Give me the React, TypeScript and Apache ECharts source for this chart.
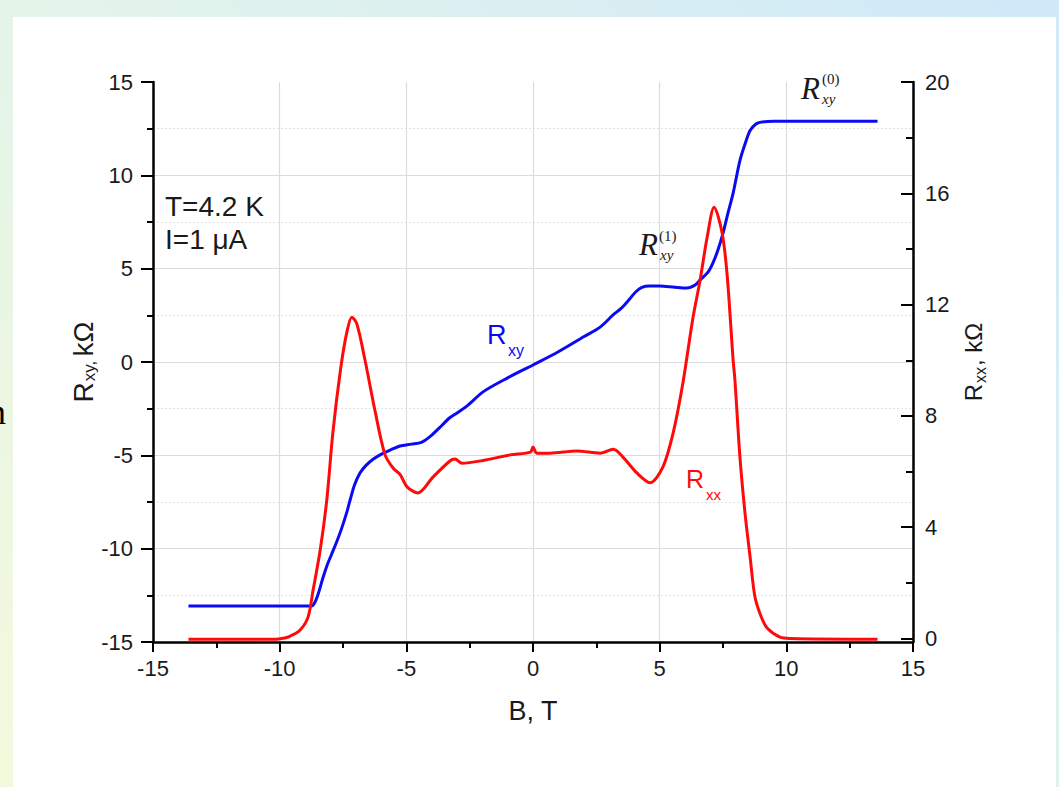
import React, { useEffect, useRef } from "react";
import * as echarts from "echarts";

// Hall resistance R_xy (left axis, kΩ) vs magnetic field B (T)
const RXY_B = [
  -13.6, -8.75, -8.6, -8.45, -8.3, -8.13, -7.95, -7.74, -7.55, -7.34, -7.2, -7.05,
  -6.83, -6.6, -6.3, -6.0, -5.6, -5.25, -4.8, -4.4, -4.07, -3.6, -3.3, -3.08, -2.6,
  -1.97, -1.0, 0, 1.0, 2.0, 2.65, 3.16, 3.5, 3.83, 4.05, 4.3, 4.6, 5.0, 5.6, 6.07,
  6.4, 6.6, 6.9, 7.1, 7.3, 7.5, 7.7, 7.9, 8.17, 8.4, 8.57, 8.8, 9.0, 9.5, 13.6,
];
const RXY_VAL = [
  -13.07, -13.07, -12.85, -12.3, -11.6, -10.9, -10.3, -9.6, -8.9, -8.0, -7.3, -6.6,
  -5.95, -5.55, -5.2, -4.95, -4.7, -4.5, -4.4, -4.3, -4.0, -3.4, -3.0, -2.8, -2.35,
  -1.6, -0.85, -0.16, 0.55, 1.35, 1.87, 2.52, 2.9, 3.4, 3.75, 4.0, 4.07, 4.07, 4.0, 3.96,
  4.12, 4.4, 4.8, 5.3, 6.0, 6.9, 8.0, 9.05, 10.8, 11.8, 12.4, 12.75, 12.85, 12.9, 12.9,
];

// Longitudinal resistance R_xx (right axis, kΩ) vs B (T)
const RXX_B = [
  -13.6, -10.2, -9.8, -9.6, -9.2, -8.88, -8.68, -8.4, -8.14, -7.9, -7.6, -7.35,
  -7.15, -6.95, -6.63, -6.24, -5.84, -5.5, -5.25, -4.97, -4.54, -3.95, -3.28, -3.08,
  -2.8, -1.97, -0.9, -0.1, 0, 0.15, 0.67, 1.73, 2.65, 3.17, 3.55, 4.1, 4.62, 5.13,
  5.53, 5.92, 6.3, 6.6, 6.87, 7.15, 7.46, 7.66, 7.9, 7.97, 8.17, 8.37, 8.57, 8.76,
  9.0, 9.24, 9.75, 10.15, 13.6,
];
const RXX_VAL = [
  -0.03, -0.03, 0.02, 0.08, 0.3, 0.77, 1.74, 3.18, 4.98, 7.4, 9.65, 11.0,
  11.55, 11.3, 10.0, 8.2, 6.6, 6.1, 5.9, 5.45, 5.23, 5.8, 6.38, 6.45,
  6.3, 6.4, 6.6, 6.7, 6.88, 6.66, 6.66, 6.74, 6.66, 6.8, 6.52, 5.95, 5.6, 6.17,
  7.38, 9.2, 11.45, 12.9, 14.4, 15.5, 14.6, 13.1, 10.0, 9.3, 6.5, 4.5, 2.93, 1.5,
  0.8, 0.38, 0.05, 0.0, -0.03,
];

const RIGHT_TICKS = [0, 4, 8, 12, 16, 20];
const RIGHT_MINOR_TICKS = [2, 6, 10, 14, 18];

const SANS = "'Liberation Sans', Arial, sans-serif";
const SERIF = "'Liberation Serif', 'Times New Roman', serif";
const INK = "#1a1a1a";

export default function App() {
  const ref = useRef<HTMLDivElement>(null);

  useEffect(() => {
    document.body.style.margin = "0";
    const chart = echarts.init(ref.current as HTMLDivElement, null, { renderer: "svg" });

    const rxy = RXY_B.map((b, i) => [b, RXY_VAL[i]]);
    const rxx = RXX_B.map((b, i) => [b, RXX_VAL[i]]);

    const tickStyle = { color: "#000", width: 2 };
    const axisLineStyle = { color: "#000", width: 2.5 };

    const option: any = {
      animation: false,
      backgroundColor: "transparent",
      grid: { left: 153, right: 146, top: 82, bottom: 145, containLabel: false },
      xAxis: {
        type: "value",
        min: -15,
        max: 15,
        interval: 5,
        axisLine: { show: true, onZero: false, lineStyle: axisLineStyle },
        axisTick: { show: true, inside: false, length: 10, lineStyle: tickStyle },
        minorTick: { show: true, splitNumber: 2, length: 6, lineStyle: tickStyle },
        axisLabel: { fontSize: 22, fontFamily: SANS, color: INK, margin: 15 },
        splitLine: { show: true, showMinLine: false, showMaxLine: false, lineStyle: { color: "#dcdcdc", width: 1.2 } },
        name: "B, T",
        nameLocation: "middle",
        nameGap: 55,
        nameMoveOverlap: false,
        nameTextStyle: { fontSize: 27, fontFamily: SANS, color: INK, verticalAlign: "top" },
      },
      yAxis: [
        {
          type: "value",
          position: "left",
          min: -15,
          max: 15,
          interval: 5,
          axisLine: { show: true, onZero: false, lineStyle: axisLineStyle },
          axisTick: { show: true, inside: false, length: 12, lineStyle: tickStyle },
          minorTick: { show: true, splitNumber: 2, length: 6, lineStyle: tickStyle },
          axisLabel: { fontSize: 22, fontFamily: SANS, color: INK, margin: 20 },
          splitLine: { show: true, showMinLine: false, showMaxLine: false, lineStyle: { color: "#dcdcdc", width: 1.2 } },
          minorSplitLine: { show: true, lineStyle: { color: "#e2e2e2", width: 1.2, type: [2, 2] } },
          name: "{r|R}{s|xy,}{g| }{r|kΩ}",
          nameLocation: "middle",
          nameRotate: 90,
          nameGap: 55,
          nameMoveOverlap: false,
          nameTextStyle: {
            fontFamily: SANS,
            color: INK,
            rich: {
              r: { fontSize: 28, fontFamily: SANS, color: INK },
              s: { fontSize: 17, fontFamily: SANS, color: INK, padding: [13, 0, 0, 1] },
              g: { fontSize: 16, fontFamily: SANS },
            },
          },
        },
        {
          type: "value",
          position: "right",
          min: -0.125,
          max: 20,
          axisLine: { show: true, onZero: false, lineStyle: axisLineStyle },
          axisTick: { show: true, inside: true, length: 12, lineStyle: tickStyle, customValues: RIGHT_TICKS },
          axisLabel: { fontSize: 22, fontFamily: SANS, color: INK, margin: 12, customValues: RIGHT_TICKS },
          splitLine: { show: false },
          name: "{r|R}{s|xx}{r|, kΩ}",
          nameLocation: "middle",
          nameRotate: 90,
          nameGap: 46,
          nameMoveOverlap: false,
          nameTextStyle: {
            fontFamily: SANS,
            color: INK,
            rich: {
              r: { fontSize: 24, fontFamily: SANS, color: INK },
              s: { fontSize: 16, fontFamily: SANS, color: INK, padding: [13, 1, 0, 1] },
            },
          },
        },
        {
          type: "value",
          position: "right",
          min: -0.125,
          max: 20,
          axisLine: { show: false, onZero: false },
          axisTick: { show: true, inside: true, length: 7, lineStyle: tickStyle, customValues: RIGHT_MINOR_TICKS },
          axisLabel: { show: false },
          splitLine: { show: false },
        },
      ],
      series: [
        {
          type: "line",
          name: "Rxy",
          yAxisIndex: 0,
          data: rxy,
          showSymbol: false,
          smooth: 0.3,
          lineStyle: { color: "#0a0af5", width: 3 },
          z: 3,
        },
        {
          type: "line",
          name: "Rxx",
          yAxisIndex: 1,
          data: rxx,
          showSymbol: false,
          smooth: 0.3,
          lineStyle: { color: "#ff0a0a", width: 3 },
          z: 4,
        },
      ],
      graphic: [
        { type: "text", z: 100, x: 6, y: 430, style: { text: "n", font: `36px ${SERIF}`, fill: "#000", align: "right", verticalAlign: "bottom" } },
        { type: "text", z: 100, x: 165, y: 206, style: { text: "T=4.2 K", font: `28px ${SANS}`, fill: INK, verticalAlign: "middle" } },
        { type: "text", z: 100, x: 165, y: 239, style: { text: "I=1 μA", font: `28px ${SANS}`, fill: INK, verticalAlign: "middle" } },
        { type: "text", z: 100, x: 487, y: 335, style: { text: "R", font: `27px ${SANS}`, fill: "#0a0af5", verticalAlign: "middle" } },
        { type: "text", z: 100, x: 508, y: 350, style: { text: "xy", font: `16px ${SANS}`, fill: "#0a0af5", verticalAlign: "middle" } },
        { type: "text", z: 100, x: 686, y: 479, style: { text: "R", font: `25px ${SANS}`, fill: "#ff0a0a", verticalAlign: "middle" } },
        { type: "text", z: 100, x: 706, y: 494, style: { text: "xx", font: `15px ${SANS}`, fill: "#ff0a0a", verticalAlign: "middle" } },
        { type: "text", z: 100, x: 639, y: 244, style: { text: "R", font: `italic 31px ${SERIF}`, fill: INK, verticalAlign: "middle" } },
        { type: "text", z: 100, x: 659, y: 236, style: { text: "(1)", font: `15px ${SERIF}`, fill: INK, verticalAlign: "middle" } },
        { type: "text", z: 100, x: 660, y: 255, style: { text: "xy", font: `italic 15px ${SERIF}`, fill: INK, verticalAlign: "middle" } },
        { type: "text", z: 100, x: 801, y: 88, style: { text: "R", font: `italic 31px ${SERIF}`, fill: INK, verticalAlign: "middle" } },
        { type: "text", z: 100, x: 822, y: 79, style: { text: "(0)", font: `15px ${SERIF}`, fill: INK, verticalAlign: "middle" } },
        { type: "text", z: 100, x: 822, y: 99, style: { text: "xy", font: `italic 15px ${SERIF}`, fill: INK, verticalAlign: "middle" } },
      ],
    };

    chart.setOption(option);
    return () => chart.dispose();
  }, []);

  return (
    <div
      style={{
        position: "fixed",
        left: 0,
        top: 0,
        width: 1059,
        height: 787,
        background: "linear-gradient(45deg, #f3f9dc 0%, #e3f4ea 45%, #cfe9f9 100%)",
      }}
    >
      <div style={{ position: "absolute", left: 13, top: 17, width: 1043, height: 770, background: "#ffffff" }} />
      <div ref={ref} style={{ position: "absolute", left: 0, top: 0, width: 1059, height: 787 }} />
    </div>
  );
}
